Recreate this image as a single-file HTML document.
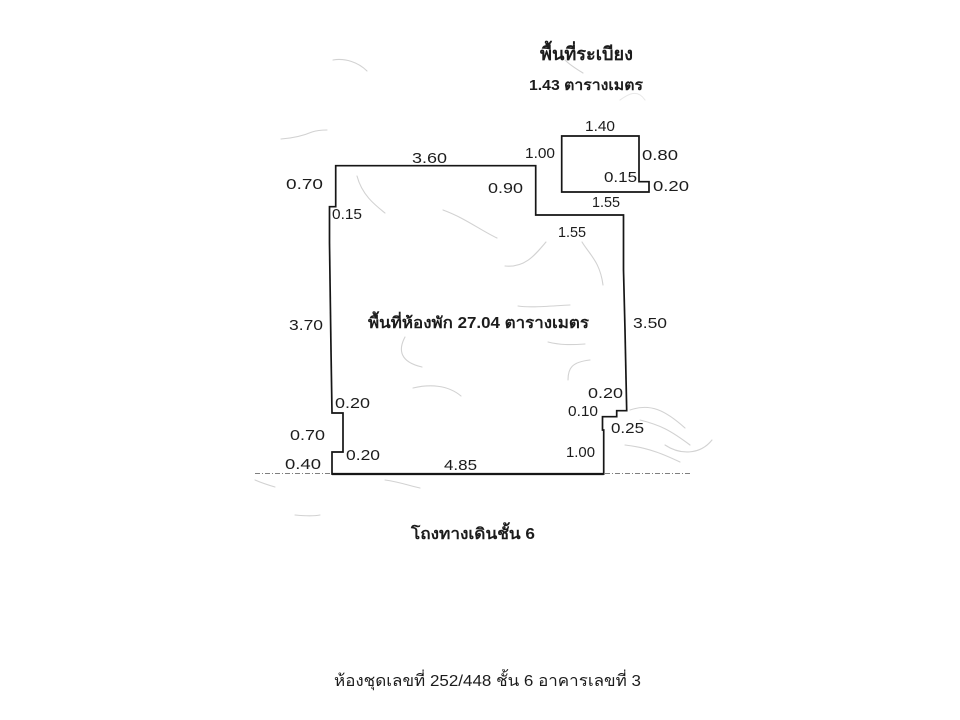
<!DOCTYPE html>
<html><head><meta charset="utf-8"><style>
html,body{margin:0;padding:0;background:#fff;width:960px;height:720px;overflow:hidden}
svg{display:block}
text{font-family:"Liberation Sans","DejaVu Sans",sans-serif;fill:#1c1c1c}
.d{font-size:15px}
.b{font-weight:bold}
</style></head><body>
<svg width="960" height="720" viewBox="0 0 960 720" xmlns="http://www.w3.org/2000/svg">
<defs><filter id="s" x="-5%" y="-5%" width="110%" height="110%"><feGaussianBlur stdDeviation="0.35"/></filter></defs>
<g fill="none" stroke="#d2d2d2" stroke-width="1.1" stroke-linecap="round" filter="url(#s)">
<path d="M333 60C345 58 358 62 367 71"/>
<path d="M281 139C295 138 305 135 312 132C318 130 323 130 327 130"/>
<path d="M357 176C362 195 375 205 385 213"/>
<path d="M443 210C465 218 480 230 497 238"/>
<path d="M546 242C535 255 525 268 505 266"/>
<path d="M582 242C590 255 600 262 603 285"/>
<path d="M405 337C398 350 400 362 422 367"/>
<path d="M518 306C530 308 550 306 570 305"/>
<path d="M548 342C560 345 570 345 585 344"/>
<path d="M568 380C568 368 572 362 590 360"/>
<path d="M413 388C430 384 448 385 461 396"/>
<path d="M630 410C650 403 665 410 685 428"/>
<path d="M640 420C660 425 670 430 690 445"/>
<path d="M665 445C680 455 700 455 712 440"/>
<path d="M625 445C650 448 665 455 680 462"/>
<path d="M385 480C400 482 410 486 420 488"/>
<path d="M295 515C305 516 315 516 320 515"/>
<path d="M255 480C262 483 268 485 275 487"/>
<path d="M565 60C570 65 578 70 583 73"/>
<path d="M620 100C627 95 637 88 645 100" stroke="#e8e8e8"/>
</g>
<path d="M255 473.5H692" fill="none" stroke="#555" stroke-width="0.8" stroke-dasharray="5 2 1 2"/>
<g fill="none" stroke="#161616" stroke-width="1.7" filter="url(#s)">
<path d="M335.7 165.7H535.7V215H623.5V270L625 330L626.7 410.7H616.7V416.7H602.5V430H603.7V474H332V452H343V413H332L331 350L329.5 243V206.7H335.7Z"/>
<path d="M561.7 136H639V181.7H649V192H561.7Z"/>
<path d="M332 474H603.7" stroke-width="2.2"/>
</g>
<g class="d" filter="url(#s)" lengthAdjust="spacingAndGlyphs">
<text x="412" y="163" textLength="35" lengthAdjust="spacingAndGlyphs">3.60</text>
<text x="525" y="158" textLength="30" lengthAdjust="spacingAndGlyphs">1.00</text>
<text x="286" y="189" textLength="37" lengthAdjust="spacingAndGlyphs">0.70</text>
<text x="488" y="193" textLength="35" lengthAdjust="spacingAndGlyphs">0.90</text>
<text x="332" y="219" textLength="30" lengthAdjust="spacingAndGlyphs">0.15</text>
<text x="585" y="131" textLength="30" lengthAdjust="spacingAndGlyphs">1.40</text>
<text x="642" y="160" textLength="36" lengthAdjust="spacingAndGlyphs">0.80</text>
<text x="604" y="182" textLength="33" lengthAdjust="spacingAndGlyphs">0.15</text>
<text x="653" y="191" textLength="36" lengthAdjust="spacingAndGlyphs">0.20</text>
<text x="592" y="207" textLength="28" lengthAdjust="spacingAndGlyphs">1.55</text>
<text x="558" y="237" textLength="28" lengthAdjust="spacingAndGlyphs">1.55</text>
<text x="289" y="330" textLength="34" lengthAdjust="spacingAndGlyphs">3.70</text>
<text x="633" y="328" textLength="34" lengthAdjust="spacingAndGlyphs">3.50</text>
<text x="588" y="398" textLength="35" lengthAdjust="spacingAndGlyphs">0.20</text>
<text x="568" y="416" textLength="30" lengthAdjust="spacingAndGlyphs">0.10</text>
<text x="611" y="433" textLength="33" lengthAdjust="spacingAndGlyphs">0.25</text>
<text x="335" y="408" textLength="35" lengthAdjust="spacingAndGlyphs">0.20</text>
<text x="290" y="440" textLength="35" lengthAdjust="spacingAndGlyphs">0.70</text>
<text x="285" y="469" textLength="36" lengthAdjust="spacingAndGlyphs">0.40</text>
<text x="346" y="460" textLength="34" lengthAdjust="spacingAndGlyphs">0.20</text>
<text x="444" y="470" textLength="33" lengthAdjust="spacingAndGlyphs">4.85</text>
<text x="566" y="457" textLength="29" lengthAdjust="spacingAndGlyphs">1.00</text>
</g>
<text class="b" x="540" y="60" font-size="18" textLength="93" lengthAdjust="spacingAndGlyphs">พื้นที่ระเบียง</text>
<text class="b" x="529" y="90" font-size="15" textLength="114" lengthAdjust="spacingAndGlyphs">1.43 ตารางเมตร</text>
<text class="b" x="368" y="328" font-size="15.5" textLength="221" lengthAdjust="spacingAndGlyphs">พื้นที่ห้องพัก 27.04 ตารางเมตร</text>
<text class="b" x="411" y="539" font-size="15.5" textLength="124" lengthAdjust="spacingAndGlyphs">โถงทางเดินชั้น 6</text>
<text x="334" y="686" font-size="16" textLength="307" lengthAdjust="spacingAndGlyphs">ห้องชุดเลขที่ 252/448 ชั้น 6 อาคารเลขที่ 3</text>
</svg>
</body></html>
